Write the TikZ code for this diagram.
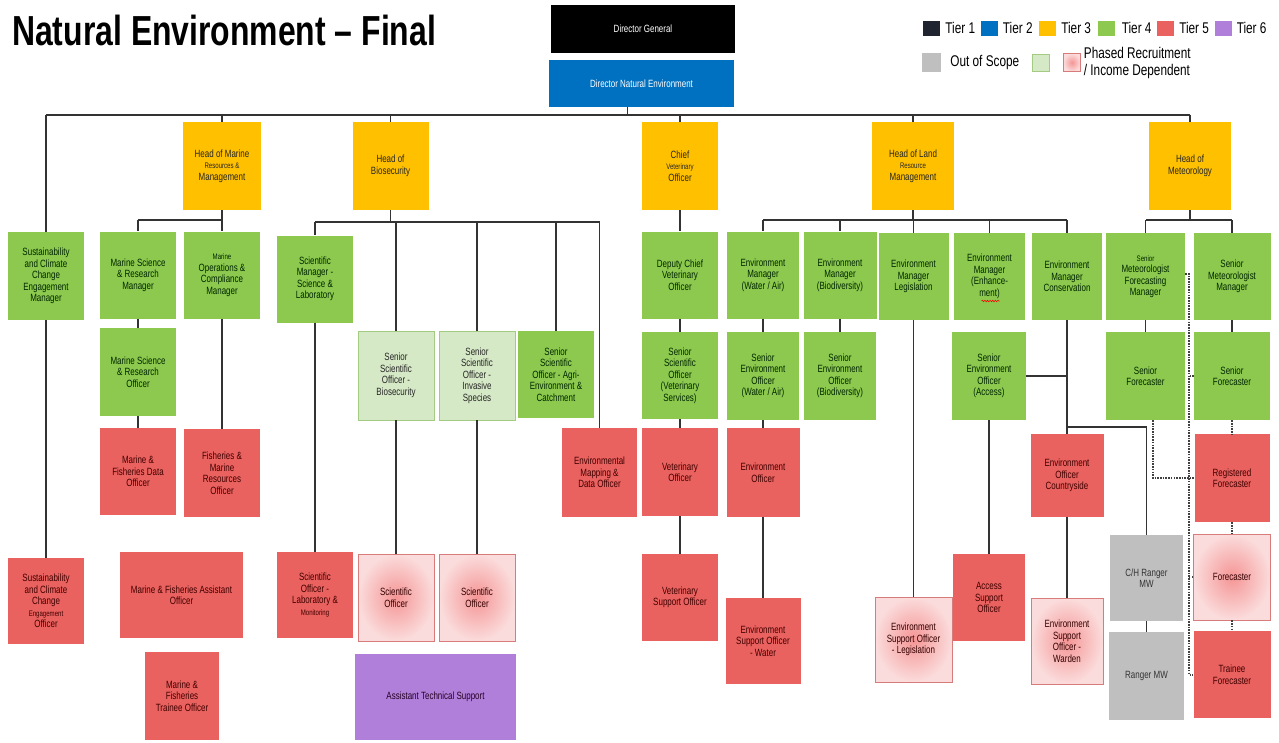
\documentclass[tikz,border=0pt]{standalone}
\usepackage{fontspec}
\setmainfont[FakeStretch=0.76]{Liberation Sans}
\usetikzlibrary{positioning,decorations.pathmorphing}

\definecolor{tierone}{HTML}{000000}
\definecolor{tieronekey}{HTML}{1F2430}
\definecolor{tiertwo}{HTML}{0070C0}
\definecolor{tierthree}{HTML}{FFC000}
\definecolor{tierfour}{HTML}{8DC94E}
\definecolor{tierfive}{HTML}{E9625F}
\definecolor{tiersix}{HTML}{B07FD9}
\definecolor{scopegrey}{HTML}{BFBFBF}
\definecolor{palegreen}{HTML}{D6E9C6}
\definecolor{palegreenline}{HTML}{A3CC82}
\definecolor{phasedin}{HTML}{F59595}
\definecolor{phasedout}{HTML}{FBDCDC}
\definecolor{phasedline}{HTML}{D77B7B}
\definecolor{linkgrey}{HTML}{333333}

\newcommand{\boxfont}{\fontsize{10.5}{11.5}\selectfont}
\newcommand{\keyfont}{\fontsize{15.5}{17}\selectfont}
\newcommand{\tinyword}[1]{{\fontsize{8}{9}\selectfont #1}}

\begin{document}
\begin{tikzpicture}[x=1pt, y=-1pt,
  box/.style={rectangle, inner sep=1pt, align=center, font=\boxfont, minimum width=76pt, minimum height=87pt},
  t1/.style={box, fill=tierone, text=white},
  t2/.style={box, fill=tiertwo, text=white},
  t3/.style={box, fill=tierthree, text=black!85},
  t4/.style={box, fill=tierfour, text=black!85!green},
  t4p/.style={box, fill=palegreen, draw=palegreenline, line width=0.8pt, text=black!85},
  t5/.style={box, fill=tierfive, text=black!75!red},
  t5p/.style={box, inner color=phasedin, outer color=phasedout, draw=phasedline, line width=0.8pt, text=black!80!red},
  t6/.style={box, fill=tiersix, text=black!70!violet},
  oos/.style={box, fill=scopegrey, text=black!80},
  link/.style={draw=linkgrey, line width=1.3pt},
  dotlink/.style={draw=black!75, line width=2pt, dash pattern=on 1.6pt off 1.1pt},
  key/.style={rectangle, minimum width=17pt, minimum height=15pt, inner sep=0pt},
  keytext/.style={font=\keyfont, inner sep=0pt, align=left}]

\fill[white] (0,0) rectangle (1279,742);
\useasboundingbox (0,0) rectangle (1279,742);

\node[anchor=base west, inner sep=0pt, font=\fontsize{42}{42}\selectfont\bfseries] (title) at (12,45) {Natural Environment \textendash{} Final};

% key
\node[key, fill=tieronekey] (k1) at (931.5,28) {};
\node[keytext, right=5pt of k1] (k1t) {Tier 1};
\node[key, fill=tiertwo, right=6pt of k1t] (k2) {};
\node[keytext, right=4pt of k2] (k2t) {Tier 2};
\node[key, fill=tierthree, right=6pt of k2t] (k3) {};
\node[keytext, right=5pt of k3] (k3t) {Tier 3};
\node[key, fill=tierfour, right=7pt of k3t] (k4) {};
\node[keytext, right=6pt of k4] (k4t) {Tier 4};
\node[key, fill=tierfive, right=5pt of k4t] (k5) {};
\node[keytext, right=5pt of k5] (k5t) {Tier 5};
\node[key, fill=tiersix, right=6pt of k5t] (k6) {};
\node[keytext, right=4pt of k6] (k6t) {Tier 6};
\node[key, fill=scopegrey, minimum width=19pt, minimum height=19pt] (k7) at (931.5,62.5) {};
\node[keytext, right=9pt of k7] (k7t) {Out of Scope};
\node[key, fill=palegreen, draw=palegreenline, minimum height=17pt] (k8) at (1041,62.5) {};
\node[key, inner color=phasedin, outer color=phasedout, draw=phasedline, minimum height=18pt] (k9) at (1072,62.5) {};
\node[keytext, right=3pt of k9] (k9t) {Phased Recruitment\\/ Income Dependent};

% directors and heads
\node[t1, minimum width=184pt, minimum height=48pt] (dg) at (643,29) {Director General};
\node[t2, minimum width=185pt, minimum height=47pt] (dne) at (641.5,83.5) {Director Natural Environment};
\node[t3, minimum width=78pt, minimum height=88pt] (hmar) at (222,166) {Head of Marine\\\tinyword{Resources \&}\\Management};
\node[t3, minimum height=88pt] (hbio) at (390.5,166) {Head of\\Biosecurity};
\node[t3, minimum height=88pt] (hvet) at (680,166) {Chief\\\tinyword{Veterinary}\\Officer};
\node[t3, minimum width=82pt, minimum height=88pt] (hland) at (913,166) {Head of Land\\\tinyword{Resource}\\Management};
\node[t3, minimum width=82pt, minimum height=88pt] (hmet) at (1190,166) {Head of\\Meteorology};

% tier 4 row
\node[t4, minimum height=88pt] (sccm) at (46,276) {Sustainability\\and Climate\\Change\\Engagement\\Manager};
\node[t4] (msrm) at (138,275) {Marine Science\\\& Research\\Manager};
\node[t4] (mocm) at (222,275) {\tinyword{Marine}\\Operations \&\\Compliance\\Manager};
\node[t4] (smsl) at (315,279) {Scientific\\Manager -\\Science \&\\Laboratory};
\node[t4] (dcvo) at (680,275) {Deputy Chief\\Veterinary\\Officer};
\node[t4, minimum width=72pt] (emwa) at (763,275) {Environment\\Manager\\(Water / Air)};
\node[t4, minimum width=73pt] (embd) at (840,275) {Environment\\Manager\\(Biodiversity)};
\node[t4, minimum width=70pt] (emlg) at (913.5,276.5) {Environment\\Manager\\Legislation};
\node[t4, minimum width=71pt] (emen) at (989.5,276.5) {Environment\\Manager\\(Enhance-\\ment)};
\node[t4, minimum width=70pt] (emco) at (1067,276.5) {Environment\\Manager\\Conservation};
\node[t4, minimum width=79pt] (smfm) at (1145.5,276.5) {\tinyword{Senior}\\Meteorologist\\Forecasting\\Manager};
\node[t4, minimum width=77pt] (smm) at (1232,276.5) {Senior\\Meteorologist\\Manager};

% second row
\node[t4, minimum height=88pt] (msro) at (138,372) {Marine Science\\\& Research\\Officer};
\node[t4p, minimum height=89pt] (ssob) at (396,375.5) {Senior\\Scientific\\Officer -\\Biosecurity};
\node[t4p, minimum height=89pt] (ssoi) at (477,375.5) {Senior\\Scientific\\Officer -\\Invasive\\Species};
\node[t4] (ssoa) at (556,374.5) {Senior\\Scientific\\Officer - Agri-\\Environment \&\\Catchment};
\node[t4] (ssov) at (680,375.5) {Senior\\Scientific\\Officer\\(Veterinary\\Services)};
\node[t4, minimum width=72pt, minimum height=88pt] (seow) at (763,376) {Senior\\Environment\\Officer\\(Water / Air)};
\node[t4, minimum width=72pt, minimum height=88pt] (seob) at (840,376) {Senior\\Environment\\Officer\\(Biodiversity)};
\node[t4, minimum width=74pt, minimum height=88pt] (seoa) at (989,376) {Senior\\Environment\\Officer\\(Access)};
\node[t4, minimum width=79pt, minimum height=88pt] (sfl) at (1145.5,376) {Senior\\Forecaster};
\node[t4, minimum height=88pt] (sfr) at (1232,376) {Senior\\Forecaster};

% third row
\node[t5] (mfdo) at (138,471.5) {Marine \&\\Fisheries Data\\Officer};
\node[t5, minimum height=88pt] (fmro) at (222,473) {Fisheries \&\\Marine\\Resources\\Officer};
\node[t5, minimum width=75pt, minimum height=89pt] (emdo) at (599.5,472.5) {Environmental\\Mapping \&\\Data Officer};
\node[t5, minimum height=88pt] (vo) at (680,472) {Veterinary\\Officer};
\node[t5, minimum width=73pt, minimum height=89pt] (eo) at (763,472.5) {Environment\\Officer};
\node[t5, minimum width=73pt, minimum height=83pt] (eoc) at (1067,475.5) {Environment\\Officer\\Countryside};
\node[t5, minimum width=75pt, minimum height=88pt] (rf) at (1232,478) {Registered\\Forecaster};

% fourth row
\node[t5, minimum height=86pt] (scco) at (46,601) {Sustainability\\and Climate\\Change\\\tinyword{Engagement}\\Officer};
\node[t5, minimum width=123pt, minimum height=86pt] (mfao) at (181.5,595) {Marine \& Fisheries Assistant\\Officer};
\node[t5, minimum width=74pt, minimum height=88pt] (mfto) at (182,696) {Marine \&\\Fisheries\\Trainee Officer};
\node[t5, minimum height=86pt] (solm) at (315,595) {Scientific\\Officer -\\Laboratory \&\\\tinyword{Monitoring}};
\node[t5p] (sob) at (396,597.5) {Scientific\\Officer};
\node[t5p] (soi) at (477,597.5) {Scientific\\Officer};
\node[t6, minimum width=161pt, minimum height=86pt] (ats) at (435.5,697) {Assistant Technical Support};
\node[t5] (vso) at (680,597.5) {Veterinary\\Support Officer};
\node[t5, minimum width=75pt, minimum height=86pt] (esow) at (763,641) {Environment\\Support Officer\\- Water};
\node[t5p, minimum width=77pt, minimum height=85pt] (esol) at (913.5,639.5) {Environment\\Support Officer\\- Legislation};
\node[t5, minimum width=72pt] (aso) at (989,597.5) {Access\\Support\\Officer};
\node[t5p, minimum width=72pt, minimum height=86pt] (esowd) at (1067,641) {Environment\\Support\\Officer -\\Warden};
\node[oos, minimum width=73pt, minimum height=86pt] (chr) at (1146.5,578) {C/H Ranger\\MW};
\node[oos, minimum width=75pt, minimum height=88pt] (rmw) at (1146.5,676) {Ranger MW};
\node[t5p, minimum width=77pt, minimum height=86pt] (fc) at (1232,577) {Forecaster};
\node[t5, minimum width=77pt, minimum height=87pt] (tf) at (1232,674.5) {Trainee\\Forecaster};

\draw[red, line width=0.6pt, decorate, decoration={snake, amplitude=0.7pt, segment length=2.6pt}] ([xshift=-8pt,yshift=-24.5pt]emen.center) -- ([xshift=10pt,yshift=-24.5pt]emen.center);

% top bus
\coordinate (bus) at (0,115);
\coordinate (dnefoot) at ([xshift=-14pt]dne.south);
\draw[link] (dnefoot) -- (dnefoot |- bus);
\draw[link] (sccm.north |- bus) -- (hmet.north |- bus);
\draw[link] (sccm.north |- bus) -- (sccm.north);
\draw[link] (hmar.north |- bus) -- (hmar.north);
\draw[link] (hbio.north |- bus) -- (hbio.north);
\draw[link] (hvet.north |- bus) -- (hvet.north);
\draw[link] (hland.north |- bus) -- (hland.north);
\draw[link] (hmet.north |- bus) -- (hmet.north);
\draw[link] (sccm) -- (scco);

% marine
\coordinate (mbus) at (0,220);
\draw[link] (hmar.south) -- (hmar.south |- mbus);
\draw[link] (msrm.north |- mbus) -- (mocm.north |- mbus);
\draw[link] (msrm.north |- mbus) -- (msrm.north);
\draw[link] (mocm.north |- mbus) -- (mocm.north);
\draw[link] (msrm) -- (msro);
\draw[link] (msro) -- (mfdo);
\draw[link] (mocm) -- (fmro);

% biosecurity
\coordinate (bbus) at (0,222);
\draw[link] (hbio.south) -- (hbio.south |- bbus);
\draw[link] (smsl.north |- bbus) -- (emdo.north |- bbus) -- (emdo.north);
\draw[link] (smsl.north |- bbus) -- (smsl.north);
\draw[link] (ssob.north |- bbus) -- (ssob.north);
\draw[link] (ssoi.north |- bbus) -- (ssoi.north);
\draw[link] (ssoa.north |- bbus) -- (ssoa.north);
\draw[link] (smsl) -- (solm);
\draw[link] (ssob) -- (sob);
\draw[link] (ssoi) -- (soi);

% veterinary
\draw[link] (hvet) -- (dcvo);
\draw[link] (dcvo) -- (ssov);
\draw[link] (ssov) -- (vo);
\draw[link] (vo) -- (vso);

% land
\coordinate (lbus) at (0,220);
\draw[link] (hland.south) -- (hland.south |- lbus);
\draw[link] (emwa.north |- lbus) -- (emco.north |- lbus);
\draw[link] (emwa.north |- lbus) -- (emwa.north);
\draw[link] (embd.north |- lbus) -- (embd.north);
\draw[link] (emlg.north |- lbus) -- (emlg.north);
\draw[link] (emen.north |- lbus) -- (emen.north);
\draw[link] (emco.north |- lbus) -- (emco.north);
\draw[link] (emwa) -- (seow);
\draw[link] (seow) -- (eo);
\draw[link] (eo) -- (esow);
\draw[link] (embd) -- (seob);
\draw[link] (emlg) -- (esol);
\draw[link] (seoa.east) -- (seoa.east -| emco.south);
\draw[link] (seoa) -- (aso);
\draw[link] (emco) -- (eoc);
\draw[link] (eoc) -- (esowd);
\coordinate (cbr) at (0,427);
\draw[link] (emco.south |- cbr) -| (chr.north);
\draw[link] (chr) -- (rmw);

% meteorology
\coordinate (tbus) at (0,220);
\draw[link] (hmet.south) -- (hmet.south |- tbus);
\draw[link] (smfm.north |- tbus) -- (smm.north |- tbus);
\draw[link] (smfm.north |- tbus) -- (smfm.north);
\draw[link] (smm.north |- tbus) -- (smm.north);
\draw[link] (smfm) -- (sfl);
\draw[link] (smm) -- (sfr);
\draw[dotlink] (sfr) -- (rf);
\draw[dotlink] (rf) -- (fc);
\draw[dotlink] (fc) -- (tf);
\coordinate (dtop) at (1189,274);
\draw[dotlink] (smfm.east |- dtop) -- (dtop) -- (dtop |- tf.west) -- (tf.west);
\draw[dotlink] (sfr.west) -- (sfr.west -| dtop);
\draw[dotlink] (fc.west) -- (fc.west -| dtop);
\draw[dotlink] ([xshift=7.5pt]sfl.south) |- (rf.west);
\end{tikzpicture}
\end{document}
